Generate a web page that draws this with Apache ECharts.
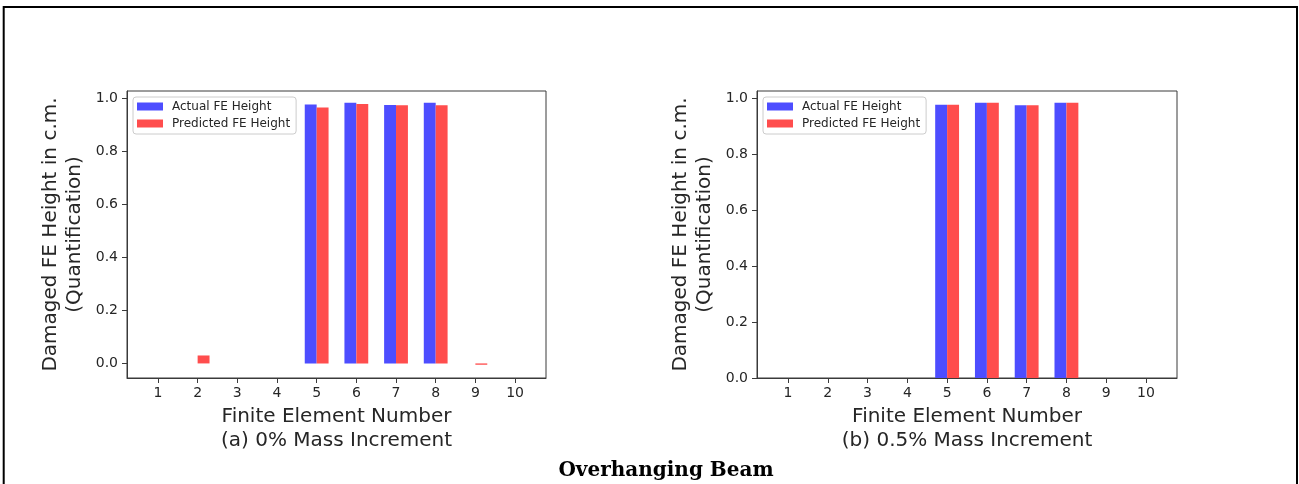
<!DOCTYPE html>
<html>
<head>
<meta charset="utf-8">
<title>Overhanging Beam</title>
<script src="https://cdn.jsdelivr.net/npm/echarts@6/dist/echarts.min.js"></script>
<style>
  html, body { margin: 0; padding: 0; background: #ffffff; }
  #chart { width: 1299px; height: 484px; }
</style>
</head>
<body>
<div id="chart"></div>
<script>
// Finite element positions along the beam and their tick labels
const elementNumbers = [1, 2, 3, 4, 5, 6, 7, 8, 9, 10];
const tickLabels = ['1', '2', '3', '4', '5', '6', '7', '8', '9', '10'];
const yTickValues = [0, 0.2, 0.4, 0.6, 0.8, 1.0];

// (a) 0% mass increment
const actualA = [0, 0, 0, 0, 0.977, 0.984, 0.975, 0.984, 0, 0];
const predictedA = [0, 0.03, 0, 0, 0.966, 0.979, 0.974, 0.974, -0.005, 0];

// (b) 0.5% mass increment
const actualB = [0, 0, 0, 0, 0.977, 0.984, 0.975, 0.984, 0, 0];
const predictedB = [0, 0, 0, 0, 0.977, 0.984, 0.975, 0.984, 0, 0];

const panelCaptions = ['(a) 0% Mass Increment', '(b) 0.5% Mass Increment'];
const seriesNames = ['Actual FE Height', 'Predicted FE Height'];

const BLUE = '#4d4dff';
const RED = '#ff4d4d';
const TEXT = '#262626';
const SPINE = '#3a3a3a';
const FONT = 'DejaVu Sans';

const pairs = (vals) => elementNumbers.map((x, i) => [x, vals[i]]);

function xAxisFor(gridIndex, caption) {
  return {
    type: 'value', gridIndex: gridIndex, min: 0.22, max: 10.78,
    splitLine: { show: false },
    axisLine: { show: true, onZero: false, lineStyle: { color: SPINE, width: 1 } },
    axisTick: { show: true, customValues: elementNumbers, length: 5, lineStyle: { color: SPINE } },
    axisLabel: {
      customValues: elementNumbers, margin: 8,
      fontFamily: FONT, fontSize: 14, color: TEXT,
      formatter: (v) => tickLabels[elementNumbers.indexOf(Math.round(v))]
    },
    name: 'Finite Element Number\n' + caption,
    nameLocation: 'middle', nameGap: 26,
    nameTextStyle: { fontFamily: FONT, fontSize: 20, lineHeight: 24, color: TEXT }
  };
}

function yAxisFor(gridIndex, min, max) {
  return {
    type: 'value', gridIndex: gridIndex, min: min, max: max,
    splitLine: { show: false },
    axisLine: { show: true, onZero: false, lineStyle: { color: SPINE, width: 1 } },
    axisTick: { show: true, customValues: yTickValues, length: 5, lineStyle: { color: SPINE } },
    axisLabel: {
      customValues: yTickValues, margin: 9,
      fontFamily: FONT, fontSize: 14, color: TEXT,
      formatter: (v) => v.toFixed(1)
    },
    name: 'Damaged FE Height in c.m.\n(Quantification)',
    nameLocation: 'middle', nameRotate: 90, nameGap: 40,
    nameTextStyle: { fontFamily: FONT, fontSize: 20, lineHeight: 24, color: TEXT }
  };
}

function legendFor(left) {
  return {
    orient: 'vertical', left: left, top: 97,
    data: seriesNames, icon: 'rect',
    itemWidth: 26, itemHeight: 8, itemGap: 4,
    padding: [3, 6, 4, 4],
    backgroundColor: 'rgba(255,255,255,0.85)',
    borderColor: '#cccccc', borderWidth: 1, borderRadius: 3,
    selectedMode: false,
    textStyle: { fontFamily: FONT, fontSize: 12, lineHeight: 13, color: TEXT, padding: [0, 0, 0, 4] }
  };
}

function barSeries(name, color, axisIndex, values) {
  return {
    type: 'bar', name: name,
    xAxisIndex: axisIndex, yAxisIndex: axisIndex,
    data: pairs(values),
    barWidth: '30%', barGap: '0%',
    itemStyle: { color: color },
    emphasis: { disabled: true },
    animation: false
  };
}

const chart = echarts.init(document.getElementById('chart'), null, { renderer: 'canvas' });

chart.setOption({
  backgroundColor: '#ffffff',
  animation: false,
  title: {
    text: 'Overhanging Beam',
    left: 661, top: 456, textAlign: 'center',
    textStyle: { fontFamily: 'DejaVu Serif', fontWeight: 'bold', fontSize: 20, color: '#000000' }
  },
  grid: [
    { left: 127, top: 91, width: 419, height: 287, show: true, borderColor: SPINE, borderWidth: 1, backgroundColor: 'transparent' },
    { left: 757, top: 91, width: 420, height: 287, show: true, borderColor: SPINE, borderWidth: 1, backgroundColor: 'transparent' }
  ],
  legend: [legendFor(133), legendFor(763)],
  xAxis: [xAxisFor(0, panelCaptions[0]), xAxisFor(1, panelCaptions[1])],
  yAxis: [yAxisFor(0, -0.055, 1.028), yAxisFor(1, 0, 1.026)],
  series: [
    barSeries(seriesNames[0], BLUE, 0, actualA),
    barSeries(seriesNames[1], RED, 0, predictedA),
    barSeries(seriesNames[0], BLUE, 1, actualB),
    barSeries(seriesNames[1], RED, 1, predictedB)
  ],
  graphic: [{
    type: 'polyline',
    shape: { points: [[3.7, 484], [3.7, 7], [1297, 7], [1297, 484]] },
    style: { stroke: '#000000', lineWidth: 2, fill: null },
    silent: true
  }]
});
</script>
</body>
</html>
